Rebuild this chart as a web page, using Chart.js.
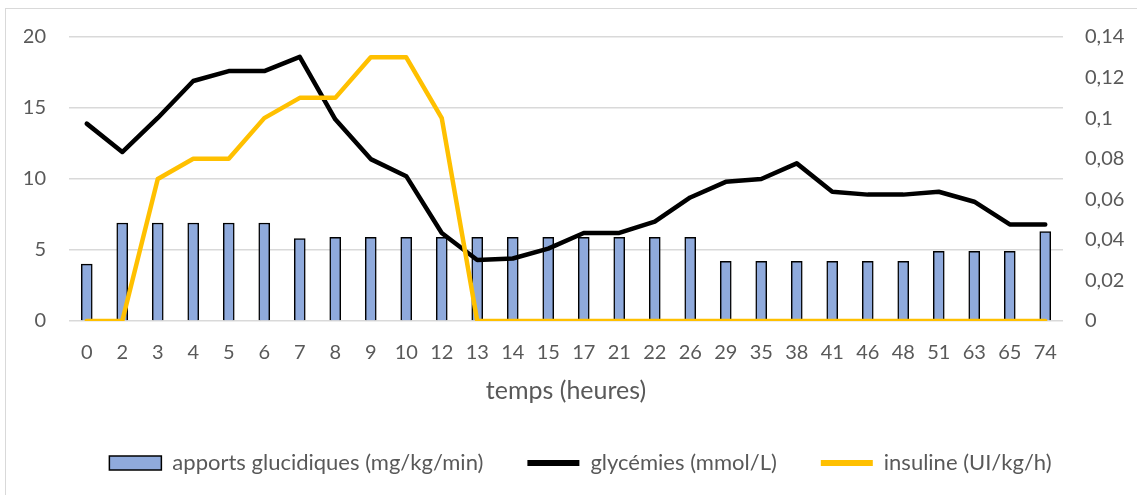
<!DOCTYPE html>
<html>
<head>
<meta charset="utf-8">
<script src="https://cdn.jsdelivr.net/npm/chart.js@4/dist/chart.umd.min.js"></script>
<style>
  html, body { margin: 0; padding: 0; background: #fff; overflow: hidden; }
  #wrap { position: relative; width: 1137px; height: 495px; }
  #frame { position: absolute; left: 5px; top: 8px; width: 1200px; height: 600px; border: 1px solid #d9d9d9; box-sizing: border-box; }
  canvas { position: absolute; left: 0; top: 0; }
</style>
</head>
<body>
<div id="wrap">
  <div id="frame"></div>
  <canvas id="myChart" width="1137" height="495"></canvas>
</div>
<script>
// time points (hours)
const hours = ['0', '2', '3', '4', '5', '6', '7', '8', '9', '10', '12', '13', '14', '15', '17', '21', '22', '26', '29', '35', '38', '41', '46', '48', '51', '63', '65', '74'];

// carbohydrate intake, mg/kg/min (left axis)
const apports = [4.0, 6.9, 6.9, 6.9, 6.9, 6.9, 5.8, 5.9, 5.9, 5.9, 5.9, 5.9, 5.9, 5.9, 5.9, 5.9, 5.9, 5.9, 4.2, 4.2, 4.2, 4.2, 4.2, 4.2, 4.9, 4.9, 4.9, 6.3];

// blood glucose, mmol/L (left axis)
const glycemies = [13.9, 11.9, 14.3, 16.9, 17.6, 17.6, 18.6, 14.2, 11.4, 10.2, 6.2, 4.3, 4.4, 5.1, 6.2, 6.2, 7.0, 8.7, 9.8, 10.0, 11.1, 9.1, 8.9, 8.9, 9.1, 8.4, 6.8, 6.8];

// insulin, UI/kg/h (right axis)
const insuline = [0, 0, 0.07, 0.08, 0.08, 0.1, 0.11, 0.11, 0.13, 0.13, 0.1, 0, 0, 0, 0, 0, 0, 0, 0, 0, 0, 0, 0, 0, 0, 0, 0, 0];

const text_color = '#595959';
const font_family = 'Lato, "Open Sans", sans-serif';

const ctx = document.getElementById('myChart').getContext('2d');

const data = {
    labels: hours,
    datasets: [{
        type: 'bar',
        label: 'apports glucidiques (mg/kg/min)',
        data: apports,
        backgroundColor: '#8faadc',
        borderColor: '#000000',
        borderWidth: 1.5,
        barThickness: 11,
        yAxisID: 'y',
        order: 3
    }, {
        type: 'line',
        label: 'glycémies (mmol/L)',
        data: glycemies,
        borderColor: '#000000',
        backgroundColor: '#000000',
        borderWidth: 4.5,
        borderCapStyle: 'round',
        borderJoinStyle: 'round',
        pointRadius: 0,
        tension: 0,
        yAxisID: 'y',
        order: 2
    }, {
        type: 'line',
        label: 'insuline (UI/kg/h)',
        data: insuline,
        borderColor: '#ffc000',
        backgroundColor: '#ffc000',
        borderWidth: 4.5,
        borderCapStyle: 'round',
        borderJoinStyle: 'round',
        pointRadius: 0,
        tension: 0,
        yAxisID: 'y1',
        order: 1
    }]
};

const config = {
    type: 'bar',
    data: data,
    options: {
        responsive: false,
        animation: false,
        devicePixelRatio: 1,
        layout: { padding: { top: 37, left: 24, right: 0, bottom: 11 } },
        plugins: {
            tooltip: { enabled: false },
            legend: {
                display: true,
                position: 'bottom',
                labels: {
                    color: text_color,
                    font: { family: font_family, size: 22 },
                    usePointStyle: true,
                    pointStyleWidth: 52,
                    boxHeight: 14,
                    padding: 44,
                    sort: (a, b) => a.datasetIndex - b.datasetIndex,
                    generateLabels: function (chart) {
                        return chart.data.datasets.map((ds, i) => ({
                            text: ds.label,
                            fillStyle: ds.backgroundColor,
                            strokeStyle: ds.type === 'bar' ? '#000000' : ds.borderColor,
                            lineWidth: ds.type === 'bar' ? 1.5 : 6,
                            pointStyle: ds.type === 'bar' ? 'rect' : 'line',
                            fontColor: text_color,
                            hidden: false,
                            datasetIndex: i
                        }));
                    }
                }
            }
        },
        scales: {
            x: {
                offset: true,
                grid: { display: false, drawTicks: false },
                border: { display: false },
                ticks: {
                    color: text_color,
                    font: { family: font_family, size: 20 },
                    padding: 20,
                    maxRotation: 0,
                    autoSkip: false
                },
                title: {
                    display: true,
                    text: 'temps (heures)',
                    color: text_color,
                    font: { family: font_family, size: 25 },
                    padding: { top: 0, bottom: 2 }
                },
                afterFit: function (scale) { scale.height = 87; }
            },
            y: {
                position: 'left',
                min: 0,
                max: 20,
                grid: { color: '#d9d9d9', lineWidth: 1.5, drawTicks: false },
                border: { display: false },
                ticks: {
                    stepSize: 5,
                    color: text_color,
                    font: { family: font_family, size: 20 },
                    padding: 23
                },
                afterFit: function (scale) { scale.width = 45; }
            },
            y1: {
                position: 'right',
                min: 0,
                max: 0.14,
                grid: { display: false, drawTicks: false },
                border: { display: false },
                ticks: {
                    stepSize: 0.02,
                    color: text_color,
                    font: { family: font_family, size: 20 },
                    padding: 22,
                    callback: function (val) {
                        return String(Math.round(val * 100) / 100).replace('.', ',');
                    }
                },
                afterFit: function (scale) { scale.width = 74; }
            }
        }
    }
};

const myChart = new Chart(ctx, config);
</script>
</body>
</html>
